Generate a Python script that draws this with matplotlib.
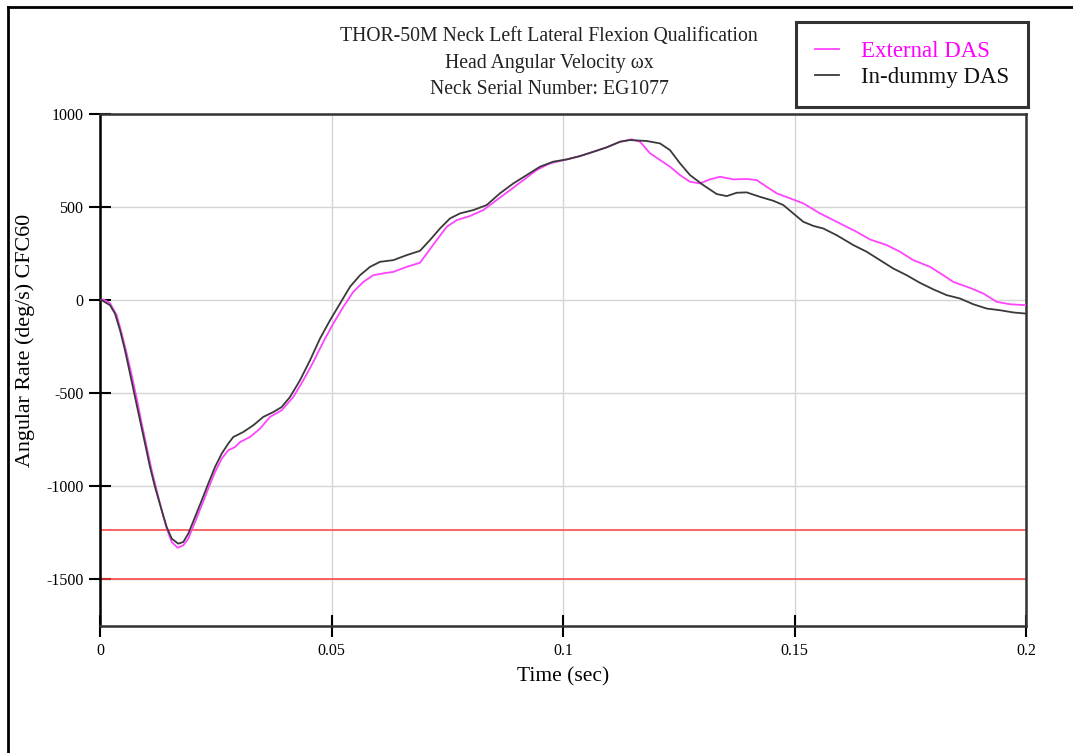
import matplotlib
matplotlib.use("Agg")
import matplotlib.pyplot as plt
from matplotlib.lines import Line2D

plt.rcParams['font.family'] = ['Liberation Serif', 'DejaVu Serif']

# In-dummy DAS (time s, angular rate deg/s)
t_dummy = [0.0, 0.00037, 0.00216, 0.00324, 0.00432, 0.00540, 0.00648, 0.00756,
           0.00864, 0.00972, 0.01080, 0.01188, 0.01333, 0.01441, 0.01549, 0.01691,
           0.01799, 0.01907, 0.02052, 0.02197, 0.02339, 0.02484, 0.02629, 0.02771,
           0.02879, 0.03095, 0.03311, 0.03527, 0.03743, 0.03924, 0.04104, 0.04320,
           0.04536, 0.04752, 0.04968, 0.05184, 0.05400, 0.05616, 0.05832, 0.06048,
           0.06335, 0.06624, 0.06911, 0.07127, 0.07343, 0.07559, 0.07775, 0.08063,
           0.08352, 0.08639, 0.08927, 0.09216, 0.09503, 0.09790, 0.10080, 0.10367,
           0.10654, 0.10944, 0.11231, 0.11447, 0.11808, 0.12095, 0.12311, 0.12527,
           0.12743, 0.13030, 0.13320, 0.13536, 0.13752, 0.13967, 0.14255, 0.14542,
           0.14758, 0.14974, 0.15190, 0.15406, 0.15622, 0.15911, 0.16270, 0.16559,
           0.16847, 0.17134, 0.17423, 0.17711, 0.17998, 0.18287, 0.18575, 0.18862,
           0.19151, 0.19438, 0.19726, 0.2]
v_dummy = [0, 0, -27, -72, -161, -269, -394, -520,
           -645, -770, -896, -1004, -1129, -1219, -1281, -1308,
           -1299, -1254, -1165, -1075, -985, -896, -824, -770,
           -735, -708, -672, -627, -601, -574, -520, -430,
           -323, -206, -108, -18, 72, 134, 179, 206,
           215, 242, 265, 323, 385, 439, 466, 484,
           511, 574, 627, 672, 717, 744, 756, 774,
           797, 821, 851, 860, 855, 842, 806, 735,
           672, 618, 570, 559, 577, 579, 555, 534,
           511, 466, 421, 399, 385, 349, 296, 260,
           215, 170, 134, 93, 58, 27, 9, -22,
           -45, -54, -66, -72]

# External DAS (time s, angular rate deg/s)
t_ext = [0.0, 0.00071, 0.00216, 0.00361, 0.00469, 0.00577, 0.00685, 0.00793,
         0.00901, 0.01009, 0.01117, 0.01225, 0.01333, 0.01441, 0.01549, 0.01678,
         0.01799, 0.01907, 0.02052, 0.02197, 0.02339, 0.02484, 0.02629, 0.02771,
         0.02916, 0.03024, 0.03240, 0.03456, 0.03672, 0.03924, 0.04175, 0.04391,
         0.04607, 0.04823, 0.05039, 0.05255, 0.05471, 0.05687, 0.05903, 0.06119,
         0.06335, 0.06624, 0.06911, 0.07272, 0.07488, 0.07704, 0.07991, 0.08279,
         0.08568, 0.08855, 0.09143, 0.09432, 0.09719, 0.10080, 0.10367, 0.10654,
         0.10944, 0.11231, 0.11484, 0.11663, 0.11879, 0.12095, 0.12311, 0.12527,
         0.12743, 0.12959, 0.13175, 0.13391, 0.13678, 0.13967, 0.14183, 0.14399,
         0.14615, 0.14903, 0.15190, 0.15551, 0.16054, 0.16343, 0.16631, 0.16991,
         0.17279, 0.17566, 0.17927, 0.18214, 0.18430, 0.18790, 0.19078, 0.19367,
         0.19654, 0.2]
v_ext = [0, 4, -16, -81, -179, -287, -403, -528,
         -663, -789, -914, -1022, -1129, -1227, -1299, -1330,
         -1317, -1281, -1192, -1102, -1012, -923, -851, -806,
         -789, -762, -735, -690, -627, -591, -520, -430,
         -332, -224, -125, -36, 45, 98, 134, 144,
         152, 179, 201, 323, 394, 430, 452, 484,
         538, 591, 645, 699, 735, 756, 774, 797,
         821, 851, 864, 851, 789, 753, 717, 672,
         636, 627, 649, 663, 649, 651, 645, 609,
         574, 547, 520, 466, 403, 367, 326, 296,
         260, 215, 179, 134, 98, 66, 36, -9,
         -22, -27]

# Corridor limits
limits = [-1235, -1500]

x_ticks = [0, 0.05, 0.1, 0.15, 0.2]
x_tick_labels = ['0', '0.05', '0.1', '0.15', '0.2']
y_ticks = [1000, 500, 0, -500, -1000, -1500]

fig = plt.figure(figsize=(10.73, 7.53), dpi=100)
ax = fig.add_axes([0.0932, 0.1687, 0.863, 0.6799])

ax.grid(True, color='#d4d4d4', linewidth=1.0)
ax.set_axisbelow(True)

for lv in limits:
    ax.axhline(lv, color='#ff3b3b', linewidth=1.1, zorder=2)

ax.plot(t_ext, v_ext, color='#ff44ff', linewidth=1.3, zorder=3, label='External DAS')
ax.plot(t_dummy, v_dummy, color='#3a3a3a', linewidth=1.3, zorder=4, label='In-dummy DAS')

ax.set_xlim(0, 0.2)
ax.set_ylim(-1750, 1000)
ax.set_xticks(x_ticks)
ax.set_xticklabels(x_tick_labels)
ax.set_yticks(y_ticks)
ax.set_yticklabels([str(v) for v in y_ticks])
ax.tick_params(axis='both', direction='inout', length=16, width=1.5, color='black',
               labelsize=11.5)
ax.tick_params(axis='y', pad=4)
ax.tick_params(axis='x', pad=4)

for side in ['top', 'right', 'bottom']:
    ax.spines[side].set_color('#333333')
    ax.spines[side].set_linewidth(1.8)
ax.spines['left'].set_color('black')
ax.spines['left'].set_linewidth(1.8)

ax.set_xlabel('Time (sec)', fontsize=15.5, labelpad=6)
ax.set_ylabel('Angular Rate (deg/s) CFC60', fontsize=15.8)
ax.yaxis.set_label_coords(-0.0702, 0.5586)

title_lines = ['THOR-50M Neck Left Lateral Flexion Qualification',
               'Head Angular Velocity \u03c9x',
               'Neck Serial Number: EG1077']
for i, line in enumerate(title_lines):
    fig.text(549 / 1073, 1 - (37 + i * 26.5) / 753, line, ha='center', va='center',
             fontsize=14.2, color='#222222')

leg = ax.legend(loc='upper right', bbox_to_anchor=(1028 / 1073, 1 - 22 / 753),
                bbox_transform=fig.transFigure, fontsize=16.5, frameon=True,
                fancybox=False, edgecolor='black', handlelength=1.05,
                handletextpad=0.95, borderpad=0.82, labelspacing=0.22,
                borderaxespad=0)
leg.get_frame().set_linewidth(2.2)
for txt, col in zip(leg.get_texts(), ['#ff00ff', '#111111']):
    txt.set_color(col)

# Page frame along the top and left edges
fig.add_artist(Line2D([8 / 1073, 8 / 1073], [0, 1 - 7 / 753], color='black',
                      linewidth=2, transform=fig.transFigure))
fig.add_artist(Line2D([8 / 1073, 1], [1 - 7 / 753, 1 - 7 / 753], color='black',
                      linewidth=2, transform=fig.transFigure))

fig.savefig('out.png', dpi=100)
